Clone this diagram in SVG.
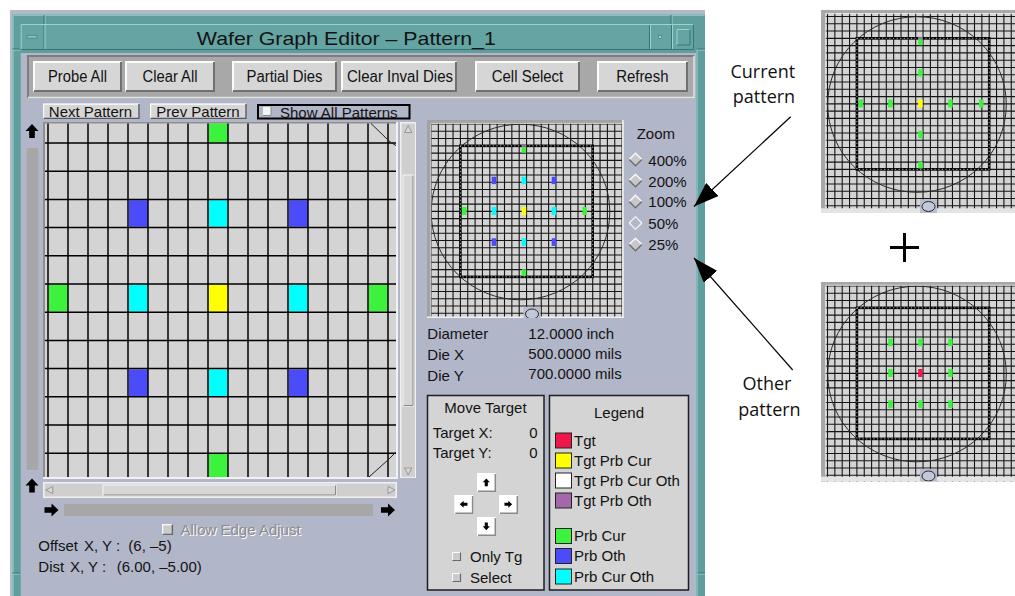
<svg xmlns="http://www.w3.org/2000/svg" xmlns:xlink="http://www.w3.org/1999/xlink" width="1015" height="596" viewBox="0 0 1015 596">
<style>
text{font-family:"Liberation Sans",Arial,Helvetica,sans-serif;fill:#121212}
.ui{font-size:15px}
.bt{font-size:16px;text-anchor:middle}
.ann{font-family:"Open Sans","Noto Sans",sans-serif;font-size:18px;text-anchor:middle;fill:#111}
.dis{fill:#8c8c8c}
.wh{fill:#ffffff}
.face{fill:#d6d6d6}
.hi{fill:none;stroke:#fbfbfb;stroke-width:2}
.lo{fill:none;stroke:#707070;stroke-width:2}
.hi1{fill:none;stroke:#fbfbfb;stroke-width:1.2}
.lo1{fill:none;stroke:#5a5a5a;stroke-width:1.4}
.tl{fill:none;stroke:#9bd3cf;stroke-width:1}
.td{fill:none;stroke:#3b7573;stroke-width:1}
.gl{fill:none;stroke:#000;stroke-width:1.5}
.mg{fill:none;stroke:#151515;stroke-width:1.1}
.G{fill:#3cf23c}.B{fill:#4b4bfa}.C{fill:#00ffff}.Y{fill:#ffff00}.R{fill:#f0164a}.P{fill:#a468aa}.W{fill:#ffffff}
.sw{stroke:#222;stroke-width:1}
.box{fill:#d4d4d4;stroke:#1e1e1e;stroke-width:1.5}
.ar{fill:#000}
.con{fill:none;stroke:#000;stroke-width:1.2}
.bar{fill:#a7a7a7}
</style>
<defs>
<path id="arU" d="M0,-7L6.5,0L2.8,0L2.8,7L-2.8,7L-2.8,0L-6.5,0Z"/>
<marker id="ah" markerUnits="userSpaceOnUse" markerWidth="26" markerHeight="18" refX="25" refY="9" orient="auto"><path d="M0,0L25,9L0,18Z" fill="#000"/></marker>
<g id="dia"><path d="M0,-6.3L6.3,0L0,6.3L-6.3,0Z" fill="#c8c8c8"/><path d="M-6.3,0L0,-6.3L6.3,0" fill="none" stroke="#fafafa" stroke-width="1.3"/><path d="M-6.3,0L0,6.3L6.3,0" fill="none" stroke="#6e6e6e" stroke-width="1.3"/></g>
<g id="diaO"><path d="M0,-6.3L6.3,0L0,6.3L-6.3,0Z" fill="#b2b6c9"/><path d="M-6.3,0L0,-6.3L6.3,0" fill="none" stroke="#fafafa" stroke-width="1.1"/><path d="M-6.3,0L0,6.3L6.3,0" fill="none" stroke="#fafafa" stroke-width="1.1"/></g>
<g id="chk"><rect x="0" y="0" width="9" height="9" fill="#cbcbcb"/><path d="M0.5,8.5V0.5H8.5" stroke="#fafafa" stroke-width="1" fill="none"/><path d="M0.5,8.5H8.5V0.5" stroke="#6a6a6a" stroke-width="1.2" fill="none"/></g>
<g id="mbtn"><rect x="0" y="0" width="19" height="19" fill="#ffffff"/><path d="M1,18.3H18.3V1" stroke="#8a8a8a" stroke-width="1.5" fill="none"/></g>
<g id="mmGrid">
<rect x="410" y="100" width="230" height="230" fill="#d4d4d4"/>
<path class="mg" d="M423.65,100V330M431,100V330M438.35,100V330M445.7,100V330M453.05,100V330M460.4,100V330M467.75,100V330M475.1,100V330M482.45,100V330M489.8,100V330M497.15,100V330M504.5,100V330M511.85,100V330M519.2,100V330M526.55,100V330M533.9,100V330M541.25,100V330M548.6,100V330M555.95,100V330M563.3,100V330M570.65,100V330M578,100V330M585.35,100V330M592.7,100V330M600.05,100V330M607.4,100V330M614.75,100V330M622.1,100V330M410,116.72H640M410,124H640M410,131.28H640M410,138.56H640M410,145.84H640M410,153.12H640M410,160.4H640M410,167.68H640M410,174.96H640M410,182.24H640M410,189.52H640M410,196.8H640M410,204.08H640M410,211.36H640M410,218.64H640M410,225.92H640M410,233.2H640M410,240.48H640M410,247.76H640M410,255.04H640M410,262.32H640M410,269.6H640M410,276.88H640M410,284.16H640M410,291.44H640M410,298.72H640M410,306H640M410,313.28H640M410,320.56H640"/>
<ellipse cx="520.5" cy="212" rx="89.3" ry="87.8" fill="none" stroke="#2a2a2a" stroke-width="1"/>
<rect x="460.4" y="145.84" width="132.3" height="131.04" fill="none" stroke="#000" stroke-width="2.6"/>
<rect x="460.4" y="145.84" width="132.3" height="131.04" fill="none" stroke="#fff" stroke-width="0.7" stroke-dasharray="1.2 2.4"/>
</g>
<g id="mmNotch"><rect x="523.5" y="306.8" width="17" height="14" fill="#b9bdd0"/><ellipse cx="532" cy="314" rx="6.5" ry="5" fill="#c3c7da" stroke="#2a2a2a" stroke-width="1"/></g>
<clipPath id="cMain"><rect x="427" y="120" width="197" height="198"/></clipPath>
<clipPath id="cTR"><rect x="821" y="10" width="194" height="203"/></clipPath>
<clipPath id="cBR"><rect x="821" y="282" width="194" height="199.5"/></clipPath>
</defs>

<rect x="0" y="0" width="1015" height="596" fill="#ffffff"/>

<g id="window-frame">
<rect x="10" y="10" width="695" height="600" fill="#b4b8c8"/>
<rect x="12.3" y="14.5" width="692.7" height="600" fill="#5f9e9c"/>
<path class="tl" d="M13,596V15.2H704.5"/>
<path class="tl" d="M45,15V24M672,15V24M12.5,50H20.5M697,50H705M12.5,574H20.5M697,574H705"/>
<path class="td" d="M44,15V24M671,15V24M12.5,49H20.5M697,49H705M12.5,573H20.5M697,573H705"/>
<rect x="20.7" y="24" width="673.3" height="26" fill="#64a4a2"/>
<path class="tl" d="M21.2,49.5V24.5H693.5"/>
<path class="td" d="M21.2,49.5H693.5V24.5"/>
<path class="td" d="M44,25V49M649.5,25V49M671.5,25V49"/>
<path class="tl" d="M45,25V49M650.5,25V49M672.5,25V49"/>
<rect x="27" y="35.5" width="10" height="2.5" fill="#8cc8c4" stroke="#3b7573" stroke-width="0.6"/>
<rect x="658.5" y="35.5" width="3" height="3" fill="#9dd6d2" stroke="#3b7573" stroke-width="0.6"/>
<path class="tl" d="M677,45V29.5H690"/>
<path class="td" d="M677,45H690V29.5"/>
<text x="346.3" y="44.5" text-anchor="middle" font-size="19" textLength="299" lengthAdjust="spacingAndGlyphs">Wafer Graph Editor – Pattern_1</text>
<rect x="20.7" y="53" width="675.3" height="545" fill="#b2b6c9"/>
<path class="tl" d="M697,50V596"/>
</g>

<g id="button-bar">
<rect x="27" y="55" width="668" height="43.5" fill="#a8a8a8"/>
<path d="M28,97.5V56H694" fill="none" stroke="#7d7d7d" stroke-width="2"/>
<path d="M28,97.5H694V56" fill="none" stroke="#e2e2e2" stroke-width="1.5"/>
</g>
<g id="btn-probe-all"><rect class="face" x="33" y="61" width="89" height="31"/><path class="hi" d="M34,91V62H121"/><path class="lo" d="M34,91H121V62"/><text class="bt" x="77.5" y="82" textLength="59" lengthAdjust="spacingAndGlyphs">Probe All</text></g>
<g id="btn-clear-all"><rect class="face" x="125" y="61" width="90" height="31"/><path class="hi" d="M126,91V62H214"/><path class="lo" d="M126,91H214V62"/><text class="bt" x="170" y="82" textLength="55" lengthAdjust="spacingAndGlyphs">Clear All</text></g>
<g id="btn-partial-dies"><rect class="face" x="232" y="61" width="105" height="31"/><path class="hi" d="M233,91V62H336"/><path class="lo" d="M233,91H336V62"/><text class="bt" x="284.5" y="82" textLength="76" lengthAdjust="spacingAndGlyphs">Partial Dies</text></g>
<g id="btn-clear-inval"><rect class="face" x="341" y="61" width="116" height="31"/><path class="hi" d="M342,91V62H456"/><path class="lo" d="M342,91H456V62"/><text class="bt" x="400" y="82" textLength="106" lengthAdjust="spacingAndGlyphs">Clear Inval Dies</text></g>
<g id="btn-cell-select"><rect class="face" x="475" y="61" width="105" height="31"/><path class="hi" d="M476,91V62H579"/><path class="lo" d="M476,91H579V62"/><text class="bt" x="527.5" y="82" textLength="71.5" lengthAdjust="spacingAndGlyphs">Cell Select</text></g>
<g id="btn-refresh"><rect class="face" x="597" y="61" width="91" height="31"/><path class="hi" d="M598,91V62H687"/><path class="lo" d="M598,91H687V62"/><text class="bt" x="642.3" y="82" textLength="52.3" lengthAdjust="spacingAndGlyphs">Refresh</text></g>

<g id="btn-next-pattern"><rect class="face" x="43" y="103.5" width="96.5" height="15.5"/><path class="hi1" d="M43.6,118.5V104.1H139"/><path class="lo1" d="M43.6,118.4H139V104.1"/><text class="ui" x="90.5" y="117" text-anchor="middle">Next Pattern</text></g>
<g id="btn-prev-pattern"><rect class="face" x="150" y="103.5" width="96.5" height="15.5"/><path class="hi1" d="M150.6,118.5V104.1H246"/><path class="lo1" d="M150.6,118.4H246V104.1"/><text class="ui" x="198" y="117" text-anchor="middle">Prev Pattern</text></g>
<g id="chk-show-all"><rect x="258" y="105" width="151.5" height="13.5" fill="none" stroke="#000" stroke-width="2"/><rect x="263" y="107" width="8" height="8.5" fill="#f4f4f4"/><path d="M263,115.5H271V107" fill="none" stroke="#8a8a8a" stroke-width="1"/><text class="ui" x="280" y="117.5">Show All Patterns</text></g>

<g id="main-grid">
<rect x="43" y="122" width="355" height="357" fill="#f2f2f2"/>
<rect x="43" y="122" width="353" height="355" fill="#8e8e8e"/>
<rect x="45" y="123.5" width="351" height="353.5" fill="#d4d4d4"/>
<rect class="G" x="209" y="123.5" width="19" height="18.8"/>
<rect class="B" x="129" y="200.2" width="19" height="26.6"/>
<rect class="C" x="209" y="200.2" width="19" height="26.6"/>
<rect class="B" x="289" y="200.2" width="19" height="26.6"/>
<rect class="G" x="49" y="284.8" width="19" height="26.6"/>
<rect class="C" x="129" y="284.8" width="19" height="26.6"/>
<rect class="Y" x="209" y="284.8" width="19" height="26.6"/>
<rect class="C" x="289" y="284.8" width="19" height="26.6"/>
<rect class="G" x="369" y="284.8" width="19" height="26.6"/>
<rect class="B" x="129" y="369.4" width="19" height="26.6"/>
<rect class="C" x="209" y="369.4" width="19" height="26.6"/>
<rect class="B" x="289" y="369.4" width="19" height="26.6"/>
<rect class="G" x="209" y="454" width="19" height="23"/>
<path class="gl" d="M48,123.5V477M68,123.5V477M88,123.5V477M108,123.5V477M128,123.5V477M148,123.5V477M168,123.5V477M188,123.5V477M208,123.5V477M228,123.5V477M248,123.5V477M268,123.5V477M288,123.5V477M308,123.5V477M328,123.5V477M348,123.5V477M368,123.5V477M388,123.5V477M45,143H396M45,171.2H396M45,199.4H396M45,227.6H396M45,255.8H396M45,284H396M45,312.2H396M45,340.4H396M45,368.6H396M45,396.8H396M45,425H396M45,453.2H396"/>
<path d="M371,123.5L388,140Q391,143 396,145.5M369,477L389,459L396,452" fill="none" stroke="#222" stroke-width="1"/>
</g>

<g id="left-control">
<use href="#arU" class="ar" transform="translate(32,131)"/>
<rect class="bar" x="26.7" y="148" width="11.6" height="322"/>
<use href="#arU" class="ar" transform="translate(32,485.5)"/>
</g>

<g id="v-scrollbar">
<rect x="400" y="122" width="16" height="356" fill="#f0f0f0"/>
<rect x="401.5" y="123.5" width="13.5" height="353.5" fill="#cfcfcf"/>
<path d="M408.2,125.5L411.8,132.5L404.6,132.5Z" fill="#d8d8d8" stroke="#8a8a8a" stroke-width="0.8"/>
<rect x="403" y="175" width="10.5" height="231" fill="#d6d6d6" stroke="#f6f6f6" stroke-width="1"/>
<path d="M403.5,405.5H413V175.5" fill="none" stroke="#8a8a8a" stroke-width="1"/>
<path d="M404.6,468L411.8,468L408.2,475Z" fill="#d8d8d8" stroke="#8a8a8a" stroke-width="0.8"/>
</g>

<g id="h-scrollbar">
<rect x="43" y="482" width="354" height="16" fill="#f0f0f0"/>
<rect x="44.5" y="483.5" width="351" height="13" fill="#cfcfcf"/>
<path d="M45.8,490L52.8,486.4L52.8,493.6Z" fill="#d8d8d8" stroke="#8a8a8a" stroke-width="0.8"/>
<rect x="103" y="485" width="233" height="10.5" fill="#d6d6d6" stroke="#f6f6f6" stroke-width="1"/>
<path d="M103.5,495H335.5V485.5" fill="none" stroke="#8a8a8a" stroke-width="1"/>
<path d="M395,490L388,486.4L388,493.6Z" fill="#d8d8d8" stroke="#8a8a8a" stroke-width="0.8"/>
</g>

<g id="bottom-control">
<use href="#arU" class="ar" transform="translate(51.5,510) rotate(90)"/>
<rect class="bar" x="64" y="504" width="309" height="12"/>
<use href="#arU" class="ar" transform="translate(388,510) rotate(90)"/>
</g>

<g id="chk-edge-adjust">
<use href="#chk" transform="translate(162,524) scale(1.22)"/>
<text class="ui wh" x="181.5" y="535.5">Allow Edge Adjust</text>
<text class="ui dis" x="180.5" y="534.5">Allow Edge Adjust</text>
</g>

<g id="offset-info">
<text class="ui" x="38.3" y="551">Offset</text>
<text class="ui" x="84" y="551">X, Y :</text>
<text class="ui" x="128.3" y="551">(6, –5)</text>
<text class="ui" x="38.3" y="572">Dist</text>
<text class="ui" x="70" y="572">X, Y :</text>
<text class="ui" x="116.7" y="572">(6.00, –5.00)</text>
</g>

<g id="minimap-main" clip-path="url(#cMain)">
<use href="#mmGrid"/>
<rect class="P" x="521.7" y="144.3" width="4.5" height="2.4"/>
<rect class="G" x="521.7" y="146.7" width="4.5" height="6"/>
<rect class="B" x="491.7" y="176.7" width="4.5" height="7.4"/>
<rect class="C" x="521.7" y="176.7" width="4.5" height="7.4"/>
<rect class="B" x="551.7" y="176.7" width="4.5" height="7.4"/>
<rect class="G" x="462" y="207" width="4.5" height="8"/>
<rect class="C" x="491.7" y="207" width="4.5" height="8"/>
<rect class="Y" x="521.7" y="207" width="4.5" height="8"/>
<rect class="C" x="551.7" y="207" width="4.5" height="8"/>
<rect class="G" x="582.5" y="207" width="4.5" height="8"/>
<rect class="B" x="491.7" y="238.3" width="4.5" height="7.6"/>
<rect class="C" x="521.7" y="238.3" width="4.5" height="7.6"/>
<rect class="B" x="551.7" y="238.3" width="4.5" height="7.6"/>
<rect class="G" x="521.7" y="269.3" width="4.5" height="6.7"/>
<rect x="427" y="120" width="197" height="3" fill="#a2a2a2"/>
<rect x="427" y="120" width="3.5" height="198" fill="#a2a2a2"/>
<path d="M430.8,317V123.4H623" fill="none" stroke="#f2f2f2" stroke-width="0.8"/>
<rect x="622" y="120" width="2" height="198" fill="#e4e4e4"/>
<rect x="427" y="316.5" width="197" height="1.5" fill="#eeeeee"/>
<use href="#mmNotch"/>
</g>

<g id="zoom-options">
<text class="ui" x="636.7" y="139">Zoom</text>
<use href="#dia" transform="translate(635.5,159.5)"/>
<use href="#dia" transform="translate(635.5,180.5)"/>
<use href="#dia" transform="translate(635.5,201.5)"/>
<use href="#diaO" transform="translate(635.5,223)"/>
<use href="#dia" transform="translate(635.5,244.5)"/>
<text class="ui" x="648.3" y="165.5">400%</text>
<text class="ui" x="648.3" y="186.5">200%</text>
<text class="ui" x="648.3" y="207">100%</text>
<text class="ui" x="648.3" y="228.7">50%</text>
<text class="ui" x="648.3" y="250">25%</text>
</g>

<g id="wafer-info">
<text class="ui" x="427.3" y="338.5">Diameter</text>
<text class="ui" x="528.3" y="338.5">12.0000 inch</text>
<text class="ui" x="427.3" y="359.5">Die X</text>
<text class="ui" x="528.3" y="359">500.0000 mils</text>
<text class="ui" x="427.3" y="380.5">Die Y</text>
<text class="ui" x="528.3" y="378.5">700.0000 mils</text>
</g>

<g id="move-target">
<rect class="box" x="427.5" y="395.5" width="116.5" height="194.5"/>
<text class="ui" x="485.5" y="413" text-anchor="middle">Move Target</text>
<text class="ui" x="432.7" y="438">Target X:</text>
<text class="ui" x="537.5" y="437.5" text-anchor="end">0</text>
<text class="ui" x="432.7" y="458">Target Y:</text>
<text class="ui" x="537.5" y="457.5" text-anchor="end">0</text>
<use href="#mbtn" transform="translate(477,473)"/>
<use href="#mbtn" transform="translate(454.3,495)"/>
<use href="#mbtn" transform="translate(499,495)"/>
<use href="#mbtn" transform="translate(477,517)"/>
<use href="#arU" class="ar" transform="translate(486.3,482.3) scale(0.55)"/>
<use href="#arU" class="ar" transform="translate(463.6,504.3) rotate(-90) scale(0.55)"/>
<use href="#arU" class="ar" transform="translate(508.3,504.3) rotate(90) scale(0.55)"/>
<use href="#arU" class="ar" transform="translate(486.3,526.3) rotate(180) scale(0.55)"/>
<use href="#chk" transform="translate(452,552)"/>
<text class="ui" x="470" y="561.5">Only Tg</text>
<use href="#chk" transform="translate(452,573)"/>
<text class="ui" x="470" y="582.5">Select</text>
</g>

<g id="legend">
<rect class="box" x="549.5" y="395.5" width="139" height="194.5"/>
<text class="ui" x="619" y="417.5" text-anchor="middle">Legend</text>
<rect class="sw R" x="555.5" y="433" width="16" height="15"/><text class="ui" x="574" y="445.5">Tgt</text>
<rect class="sw Y" x="555.5" y="453" width="16" height="15"/><text class="ui" x="574" y="465.5">Tgt Prb Cur</text>
<rect class="sw W" x="555.5" y="473" width="16" height="15"/><text class="ui" x="574" y="485.5">Tgt Prb Cur Oth</text>
<rect class="sw P" x="555.5" y="493" width="16" height="15"/><text class="ui" x="574" y="505.5">Tgt Prb Oth</text>
<rect class="sw G" x="555.5" y="528.5" width="16" height="15"/><text class="ui" x="574" y="541">Prb Cur</text>
<rect class="sw B" x="555.5" y="548.5" width="16" height="15"/><text class="ui" x="574" y="561">Prb Oth</text>
<rect class="sw C" x="555.5" y="569" width="16" height="15"/><text class="ui" x="574" y="581.5">Prb Cur Oth</text>
</g>

<g id="minimap-current" clip-path="url(#cTR)">
<g transform="translate(396.5,-107.5)">
<use href="#mmGrid"/>
<rect class="P" x="521.7" y="144.3" width="4.5" height="2.4"/>
<rect class="G" x="521.7" y="146.7" width="4.5" height="6"/>
<rect class="G" x="521.7" y="176.7" width="4.5" height="7.4"/>
<rect class="G" x="462" y="207" width="4.5" height="8"/>
<rect class="G" x="491.7" y="207" width="4.5" height="8"/>
<rect class="Y" x="521.7" y="207" width="4.5" height="8"/>
<rect class="G" x="551.7" y="207" width="4.5" height="8"/>
<rect class="G" x="582.5" y="207" width="4.5" height="8"/>
<rect class="G" x="521.7" y="238.3" width="4.5" height="7.6"/>
<rect class="G" x="521.7" y="269.3" width="4.5" height="6.7"/>
</g>
<rect x="821" y="10" width="194" height="3.3" fill="#a8a8a8"/>
<rect x="821" y="10" width="4.5" height="203" fill="#a8a8a8"/>
<path d="M825.8,208V13.6H1015" fill="none" stroke="#f2f2f2" stroke-width="0.8"/>
<rect x="821" y="208.3" width="194" height="4.7" fill="#e4e4e4"/>
<use href="#mmNotch" transform="translate(396.5,-107.5)"/>
</g>

<g id="plus-sign"><path d="M890,247.5H919M904.5,233V262" stroke="#000" stroke-width="3" fill="none"/></g>

<g id="minimap-other" clip-path="url(#cBR)">
<g transform="translate(396.5,162)">
<use href="#mmGrid"/>
<rect class="G" x="491.7" y="176.7" width="4.5" height="7.4"/>
<rect class="G" x="521.7" y="176.7" width="4.5" height="7.4"/>
<rect class="G" x="551.7" y="176.7" width="4.5" height="7.4"/>
<rect class="G" x="491.7" y="207" width="4.5" height="8"/>
<rect class="R" x="521.7" y="207" width="4.5" height="8"/>
<rect class="G" x="551.7" y="207" width="4.5" height="8"/>
<rect class="G" x="491.7" y="238.3" width="4.5" height="7.6"/>
<rect class="G" x="521.7" y="238.3" width="4.5" height="7.6"/>
<rect class="G" x="551.7" y="238.3" width="4.5" height="7.6"/>
</g>
<rect x="821" y="282" width="194" height="3" fill="#a8a8a8"/>
<rect x="821" y="282" width="4.5" height="200" fill="#a8a8a8"/>
<path d="M825.8,476V285.3H1015" fill="none" stroke="#f2f2f2" stroke-width="0.8"/>
<rect x="821" y="476.7" width="194" height="5" fill="#e4e4e4"/>
<use href="#mmNotch" transform="translate(396.5,162)"/>
</g>

<g id="label-current">
<text class="ann" x="762.8" y="78">Current</text>
<text class="ann" x="764" y="103">pattern</text>
</g>
<g id="label-other">
<text class="ann" x="767" y="390">Other</text>
<text class="ann" x="769.5" y="416">pattern</text>
</g>

<g id="connectors">
<path class="con" d="M790.7,116.7L694,206.5" marker-end="url(#ah)"/>
<path class="con" d="M792.7,370L694,258" marker-end="url(#ah)"/>
</g>
</svg>
